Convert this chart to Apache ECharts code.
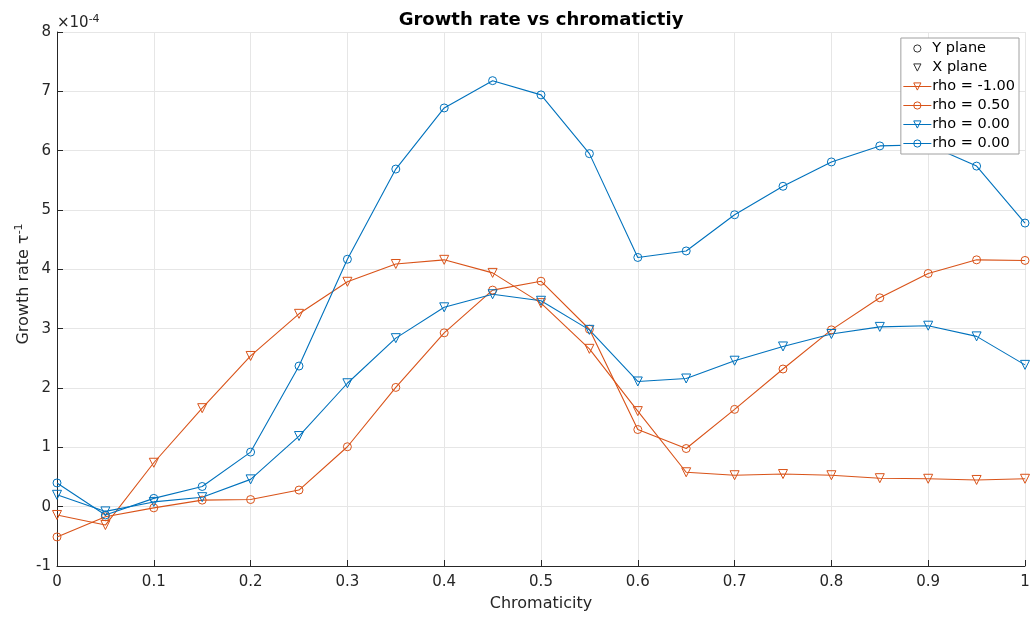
<!DOCTYPE html>
<html>
<head>
<meta charset="utf-8">
<script src="https://cdn.jsdelivr.net/npm/echarts@6/dist/echarts.min.js"></script>
<style>
html,body{margin:0;padding:0;background:#fff;}
#chart{width:1033px;height:617px;}
</style>
</head>
<body>
<div id="chart"></div>
<script>
// Chromaticity values (x)
var chromaticity = [0,0.05,0.1,0.15,0.2,0.25,0.3,0.35,0.4,0.45,0.5,0.55,0.6,0.65,0.7,0.75,0.8,0.85,0.9,0.95,1.0];
// Growth rates in units of 1e-4
var rhoM100_X = [-0.14,-0.31,0.74,1.66,2.54,3.25,3.79,4.09,4.16,3.94,3.43,2.66,1.61,0.58,0.53,0.55,0.53,0.48,0.47,0.45,0.47];
var rho050_Y = [-0.51,-0.17,-0.02,0.11,0.12,0.28,1.01,2.01,2.93,3.65,3.80,2.99,1.30,0.98,1.64,2.32,2.98,3.52,3.93,4.16,4.15];
var rho000_X = [0.20,-0.08,0.08,0.16,0.46,1.19,2.08,2.84,3.36,3.58,3.47,2.98,2.11,2.16,2.46,2.70,2.91,3.03,3.05,2.87,2.39];
var rho000_Y = [0.40,-0.14,0.14,0.34,0.92,2.37,4.17,5.69,6.72,7.18,6.94,5.95,4.20,4.31,4.92,5.40,5.81,6.08,6.10,5.74,4.78];
var yTicks = [-1,0,1,2,3,4,5,6,7,8];
var xTicks = [0,0.1,0.2,0.3,0.4,0.5,0.6,0.7,0.8,0.9,1];

var ORANGE = '#D95319', BLUE = '#0072BD';
function pairs(ys){ return chromaticity.map(function(x,i){return [x, ys[i]];}); }
function lineSeries(name, ys, color, tri){
  return {
    name: name, type: 'line', data: pairs(ys),
    symbol: tri ? 'triangle' : 'circle',
    symbolRotate: tri ? 180 : 0,
    symbolSize: tri ? 9 : 8,
    showAllSymbol: true,
    lineStyle: {color: color, width: 1.1},
    itemStyle: {color: 'none', borderColor: color, borderWidth: 1},
    emphasis: {disabled: true},
    animation: false, z: 3
  };
}
var font = 'DejaVu Sans';
var chart = echarts.init(document.getElementById('chart'), null, {renderer: 'canvas'});
chart.setOption({
  animation: false,
  backgroundColor: '#fff',
  title: {
    text: 'Growth rate vs chromatictiy',
    left: 536, top: 6, textAlign: 'center',
    textStyle: {fontFamily: font, fontSize: 18, fontWeight: 'bold', color: '#000'}
  },
  grid: {left: 57, right: 8, top: 32, bottom: 51, containLabel: false, outerBoundsMode: 'none'},
  legend: {
    orient: 'vertical', right: 14, top: 38,
    backgroundColor: '#fff', borderColor: '#a0a0a0', borderWidth: 1,
    padding: [3, 4, 3, 2], itemGap: 4, itemWidth: 28, itemHeight: 9,
    lineStyle: {width: 1},
    itemStyle: {borderWidth: 1},
    textStyle: {fontFamily: font, fontSize: 14.5, color: '#000', padding: [0,0,0,-4]},
    data: ['Y plane','X plane','rho = -1.00','rho = 0.50','rho = 0.00','rho = 0.00 ']
  },
  xAxis: {
    type: 'value', min: 0, max: 1, interval: 0.1,
    name: 'Chromaticity', nameLocation: 'middle', nameGap: 30,
    nameTextStyle: {fontFamily: font, fontSize: 16, color: '#262626'},
    axisLine: {show: true, onZero: false, lineStyle: {color: '#262626', width: 1}},
    axisTick: {show: true, inside: true, length: 6, lineStyle: {color: '#262626'}},
    axisLabel: {fontFamily: font, fontSize: 15, color: '#262626', margin: 9,
      formatter: function(v){ var r = Math.round(v*10)/10; return xTicks.indexOf(r) >= 0 ? String(r) : ''; }},
    splitLine: {show: true, lineStyle: {color: '#e6e6e6', width: 1}}
  },
  yAxis: {
    type: 'value', min: -1, max: 8, interval: 1,
    axisLine: {show: true, onZero: false, lineStyle: {color: '#262626', width: 1}},
    axisTick: {show: true, inside: true, length: 6, lineStyle: {color: '#262626'}},
    axisLabel: {fontFamily: font, fontSize: 15, color: '#262626', margin: 6,
      formatter: function(v){ return yTicks.indexOf(Math.round(v)) >= 0 ? String(Math.round(v)) : ''; }},
    splitLine: {show: true, lineStyle: {color: '#e6e6e6', width: 1}}
  },
  graphic: [{
    type: 'text', left: 57, top: 14,
    style: {text: '×10{s|-4}', fontFamily: font, fontSize: 15, fill: '#262626',
      rich: {s: {fontFamily: font, fontSize: 11, fill: '#262626', verticalAlign: 'top', padding: [0,0,8,0]}}}
  }, {
    type: 'text', x: 24, y: 284, rotation: Math.PI / 2,
    style: {text: 'Growth rate τ{s|-1}', fontFamily: font, fontSize: 16, fill: '#262626',
      align: 'center', verticalAlign: 'middle',
      rich: {s: {fontFamily: font, fontSize: 11, fill: '#262626', verticalAlign: 'top', padding: [0,0,10,0]}}}
  }],
  series: [
    {name: 'Y plane', type: 'line', data: [], symbol: 'circle', symbolSize: 6,
     lineStyle: {opacity: 0, width: 0}, itemStyle: {color: 'none', borderColor: '#333', borderWidth: 1}},
    {name: 'X plane', type: 'line', data: [], symbol: 'triangle', symbolRotate: 180, symbolSize: 6,
     lineStyle: {opacity: 0, width: 0}, itemStyle: {color: 'none', borderColor: '#333', borderWidth: 1}},
    lineSeries('rho = -1.00', rhoM100_X, ORANGE, true),
    lineSeries('rho = 0.50', rho050_Y, ORANGE, false),
    lineSeries('rho = 0.00', rho000_X, BLUE, true),
    lineSeries('rho = 0.00 ', rho000_Y, BLUE, false)
  ]
});
</script>
</body>
</html>
